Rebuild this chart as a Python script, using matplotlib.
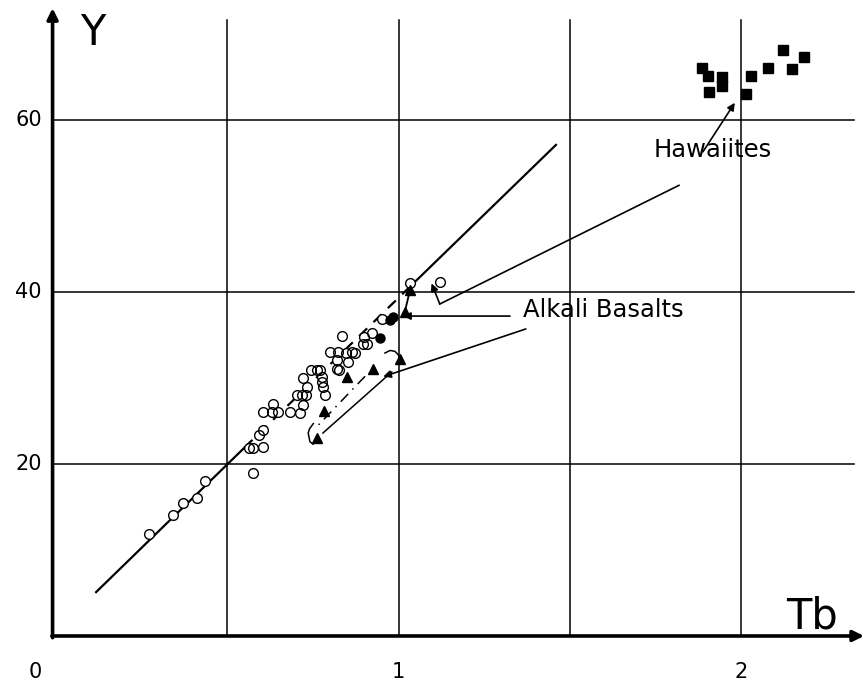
import matplotlib
matplotlib.use('Agg')
import matplotlib.pyplot as plt

# open circles (Tb, Y)
open_tb = [0.271, 0.341, 0.371, 0.411, 0.435, 0.575, 0.563, 0.575, 0.604,
           0.592, 0.604, 0.604, 0.630, 0.648, 0.683, 0.712, 0.633, 0.721,
           0.703, 0.718, 0.730, 0.785, 0.732, 0.779, 0.721, 0.776, 0.776,
           0.744, 0.762, 0.770, 0.820, 0.826, 0.820, 0.852, 0.800, 0.823,
           0.846, 0.864, 0.872, 0.896, 0.907, 0.835, 0.899, 0.922, 0.950,
           1.033, 1.120]
open_y = [11.9, 14.1, 15.5, 16.0, 18.0, 19.0, 21.9, 21.9, 22.0,
          23.4, 24.0, 26.0, 26.0, 26.0, 26.0, 25.9, 27.0, 26.9,
          28.0, 28.0, 28.0, 28.0, 29.0, 29.0, 30.0, 30.1, 29.5,
          30.9, 30.9, 30.9, 31.0, 30.9, 32.1, 31.9, 33.0, 33.0,
          32.9, 33.0, 32.9, 34.0, 34.0, 34.9, 34.8, 35.2, 36.9,
          41.1, 41.2]

# filled circles
dot_tb = [0.947, 0.975, 0.984]
dot_y = [34.6, 36.7, 37.1]

# filled triangles
tri_tb = [0.762, 0.782, 0.849, 0.925, 1.004, 1.018, 1.033]
tri_y = [23.0, 26.2, 30.1, 31.0, 32.2, 37.7, 40.2]

# Hawaiites (filled squares)
haw_tb = [1.884, 1.903, 1.905, 1.945, 1.945, 2.015, 2.027, 2.079, 2.122, 2.147, 2.184]
haw_y = [66.1, 65.1, 63.2, 65.0, 63.9, 63.0, 65.1, 66.1, 68.1, 65.9, 67.3]

# hand drawn reference line: solid / dashed / solid parts
ref_tb = [0.117, 0.55, 1.03, 1.459]
ref_y = [5.1, 21.9, 40.5, 57.1]

# pen strokes grouping the triangles
hook_top_tb = [0.960, 0.975, 0.989, 0.999, 1.004]
hook_top_y = [32.9, 33.2, 33.1, 32.7, 32.1]
stroke_tb = [0.980, 0.779]
stroke_y = [30.7, 23.6]
hook_low_tb = [0.751, 0.740, 0.736, 0.741, 0.750]
hook_low_y = [24.7, 24.1, 23.6, 22.6, 22.3]
inner_tb = [0.902, 0.765]
inner_y = [30.2, 24.5]
link_tb = [1.033, 1.018]
link_y = [40.2, 37.7]

grid_x = [0.5, 1.0, 1.5, 2.0]
grid_y = [20, 40, 60]
xtick_labels = ['0', '1', '2']
xtick_pos = [-0.061, 1.0, 2.0]

fig = plt.figure(figsize=(8.64, 6.82), dpi=100)
ax = fig.add_axes([0, 0, 1, 1])
ax.set_xlim(-0.1634, 2.358)
ax.set_ylim(-5.35, 73.95)
ax.axis('off')

# grid
for gx in grid_x:
    ax.plot([gx, gx], [0, 71.6], color='k', lw=1.1, zorder=1)
for gy in grid_y:
    ax.plot([-0.01, 2.33], [gy, gy], color='k', lw=1.1, zorder=1)

# axes with arrows
ax.annotate('', xy=(2.358, 0), xytext=(-0.012, 0),
            arrowprops=dict(arrowstyle='-|>', lw=2.6, color='k',
                            mutation_scale=16, shrinkA=0, shrinkB=0))
ax.annotate('', xy=(-0.01, 73.0), xytext=(-0.01, -0.2),
            arrowprops=dict(arrowstyle='-|>', lw=2.6, color='k',
                            mutation_scale=16, shrinkA=0, shrinkB=0))

# reference line
ax.plot(ref_tb[:2], ref_y[:2], color='k', lw=1.6, zorder=2)
ax.plot(ref_tb[1:3], ref_y[1:3], color='k', lw=1.6, ls=(0, (5, 4)), zorder=2)
ax.plot(ref_tb[2:], ref_y[2:], color='k', lw=1.6, zorder=2)

# strokes around the triangles
ax.plot(hook_top_tb, hook_top_y, color='k', lw=1.1, zorder=2)
ax.plot(stroke_tb, stroke_y, color='k', lw=1.1, zorder=2)
ax.plot(hook_low_tb, hook_low_y, color='k', lw=1.1, zorder=2)
ax.plot(inner_tb, inner_y, color='k', lw=1.1, ls=(0, (7, 4, 1, 4)), zorder=2)
ax.plot(link_tb, link_y, color='k', lw=1.3, zorder=2)

# points
ax.plot(open_tb, open_y, 'o', ms=7, mfc='white', mec='none', zorder=3)
ax.plot(open_tb, open_y, 'o', ms=7, mfc='none', mec='k', mew=1.0, zorder=4)
ax.plot(dot_tb, dot_y, 'o', ms=6.5, color='k', zorder=5)
ax.plot(tri_tb, tri_y, '^', ms=6.5, color='k', zorder=5)
ax.plot(haw_tb, haw_y, 's', ms=6.5, color='k', zorder=5)

# labels
txt = dict(color='k', family='DejaVu Sans')
ax.text(1.917, 56.5, 'Hawaiites', fontsize=17.5, ha='center', va='center', **txt)
ax.text(1.596, 37.9, 'Alkali Basalts', fontsize=17.5, ha='center', va='center', **txt)
ax.text(0.108, 70.1, 'Y', fontsize=30, ha='center', va='center', **txt)
ax.text(2.206, 2.3, 'Tb', fontsize=30, ha='center', va='center', **txt)

for yv in grid_y:
    ax.text(-0.041, yv, str(yv), fontsize=15, ha='right', va='center', **txt)
for lab, xp in zip(xtick_labels, xtick_pos):
    ax.text(xp, -4.2, lab, fontsize=15, ha='center', va='center', **txt)

# annotation arrows
arr = dict(arrowstyle='-|>', lw=1.2, color='k', mutation_scale=11,
           shrinkA=0, shrinkB=0)
ax.annotate('', xy=(1.981, 62.0), xytext=(1.888, 56.3), arrowprops=arr)
ax.plot([1.818, 1.120], [52.4, 38.6], color='k', lw=1.2, zorder=2)
ax.annotate('', xy=(1.096, 41.0), xytext=(1.120, 38.6), arrowprops=arr)
ax.annotate('', xy=(1.013, 37.2), xytext=(1.325, 37.2), arrowprops=arr)
ax.annotate('', xy=(0.955, 30.15), xytext=(1.371, 35.7), arrowprops=arr)

fig.savefig('out.png', dpi=100, facecolor='white')
